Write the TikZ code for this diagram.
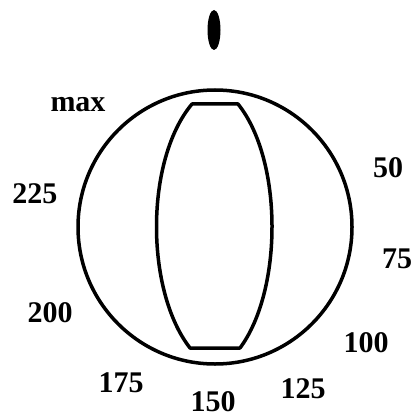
\documentclass[tikz,border=0pt]{standalone}
\usepackage{fontspec}
\setmainfont{Liberation Serif}

\begin{document}
\begin{tikzpicture}[x=1pt, y=-1pt, every node/.style={font=\fontsize{30}{30}\selectfont\bfseries, inner sep=0pt, anchor=base}]
\useasboundingbox (0,0) rectangle (415,417);
\node (dial) [circle, draw, line width=3.5pt, minimum size=274pt, anchor=center] at (215,227) {};
\fill (214,30) ellipse [x radius=6.5, y radius=20];
\draw[line width=3.5pt, line join=round] (192,104) -- (238,104) .. controls (283,160) and (283,290) .. (240,348)
  -- (190,348) .. controls (145,290) and (145,160) .. cycle;
\node (lmax) at (78,111) {max};
\node (l50) at (388,177) {50};
\node (l75) at (397,268) {75};
\node (l100) at (366,352) {100};
\node (l125) at (303,398) {125};
\node (l150) at (213,411) {150};
\node (l175) at (121,392) {175};
\node (l200) at (50,322) {200};
\node (l225) at (35,203) {225};
\end{tikzpicture}
\end{document}
